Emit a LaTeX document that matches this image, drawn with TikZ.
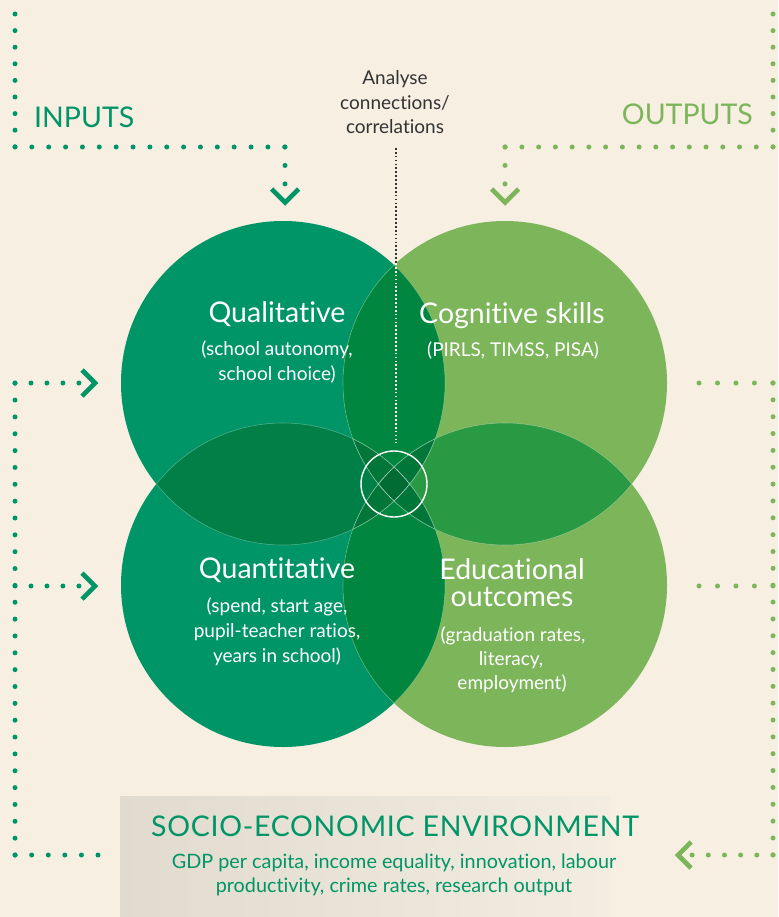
\documentclass[tikz,border=0pt]{standalone}
\usepackage{fontspec}
\setmainfont{Lato}[Ligatures=NoCommon]
\newfontfamily\spacedfont{Lato}[Ligatures=NoCommon, LetterSpace=2.5]
\definecolor{bg}{HTML}{F6EFE2}
\definecolor{gA}{HTML}{009567}
\definecolor{gB}{HTML}{7CB55A}
\definecolor{lensLL}{HTML}{008046}
\definecolor{lensTop}{HTML}{00863F}
\definecolor{lensRR}{HTML}{2A9944}
\definecolor{tri}{HTML}{007639}
\definecolor{quad}{HTML}{006C33}
\definecolor{txt}{HTML}{333333}
\definecolor{boxL}{HTML}{E1DACE}
\definecolor{boxR}{HTML}{F3EDE1}
\begin{document}
\begin{tikzpicture}[x=1pt,y=-1pt,
  dotsA/.style={draw=gA, line width=5pt, line cap=round, dash pattern=on 0pt off #1},
  dotsB/.style={draw=gB, line width=5pt, line cap=round, dash pattern=on 0pt off #1},
  chev/.style={line width=4.6pt, line join=miter, miter limit=10},
  head/.style={text=white, font=\fontsize{28.5}{30}\selectfont, anchor=base, inner sep=0pt},
  sub/.style={text=white, font=\fontsize{19}{22}\selectfont, anchor=base, inner sep=0pt},
  note/.style={text=txt, font=\fontsize{19}{22}\selectfont, anchor=base, inner sep=0pt},
  side/.style={font=\fontsize{28.5}{30}\selectfont, inner sep=0pt},
  envhead/.style={text=gA, font=\spacedfont\fontsize{28.5}{30}\selectfont, anchor=base, inner sep=0pt},
  envsub/.style={text=gA, font=\fontsize{19.8}{22}\selectfont, anchor=base, inner sep=0pt},
  edge/.style={draw=white, draw opacity=0.3, line width=0.6pt}
]
\useasboundingbox (0,0) rectangle (778,917);
\fill[bg] (0,0) rectangle (778,917);

% circle centres
\coordinate (TL) at (283,383);
\coordinate (TR) at (505,383);
\coordinate (BL) at (283,585);
\coordinate (BR) at (505,585);

% base circles
\fill[gA] (TL) circle[radius=162pt];
\fill[gA] (BL) circle[radius=162pt];
\fill[gB] (TR) circle[radius=162pt];
\fill[gB] (BR) circle[radius=162pt];

% pairwise overlaps
\begin{scope}
  \clip (TL) circle[radius=162pt];
  \fill[lensLL] (BL) circle[radius=162pt];
  \fill[lensTop] (TR) circle[radius=162pt];
\end{scope}
\begin{scope}
  \clip (BR) circle[radius=162pt];
  \fill[lensRR] (TR) circle[radius=162pt];
  \fill[lensTop] (BL) circle[radius=162pt];
\end{scope}
% triple overlaps
\begin{scope}
  \clip (TL) circle[radius=162pt];
  \fill[tri] (BR) circle[radius=162pt];
\end{scope}
\begin{scope}
  \clip (TR) circle[radius=162pt];
  \fill[tri] (BL) circle[radius=162pt];
\end{scope}
% all four
\begin{scope}
  \clip (TL) circle[radius=162pt];
  \clip (BR) circle[radius=162pt];
  \clip (TR) circle[radius=162pt];
  \fill[quad] (BL) circle[radius=162pt];
\end{scope}
% faint inner outlines
\foreach \a in {TL,TR,BL,BR}{
  \foreach \b in {TL,TR,BL,BR}{
    \ifx\a\b\else
      \begin{scope}
        \clip (\b) circle[radius=162pt];
        \draw[edge] (\a) circle[radius=162pt];
      \end{scope}
    \fi
  }
}

% hub circle
\node[draw=white, line width=1.4pt, circle, minimum size=66pt, inner sep=0pt] (hub) at (394,484) {};

% analyse note
\node[note] (ana1) at (395,85) {Analyse};
\node[note] (ana2) at (395,109.5) {connections/};
\node[note] (ana3) at (395,134) {correlations};
\coordinate (la) at (396,148);
\coordinate (lb) at (396,263);
\coordinate (lc) at (396,443);
\draw[draw=txt, line width=1.7pt, dash pattern=on 1.7pt off 2.2pt] (la) -- (lb);
\draw[draw=white, line width=1.7pt, dash pattern=on 1.7pt off 2.2pt] (lb) -- (lc);

% circle texts
\node[head] (qual) at (277,322) {Qualitative};
\node[sub] (qual1) at (277,355) {(school autonomy,};
\node[sub] (qual2) at (277,380) {school choice)};

\node[head] (cog) at (512,323) {Cognitive skills};
\node[sub] (cog1) at (513,356) {(PIRLS, TIMSS, PISA)};

\node[head] (quant) at (277,578) {Quantitative};
\node[sub] (quant1) at (277,612) {(spend, start age,};
\node[sub] (quant2) at (277,637) {pupil-teacher ratios,};
\node[sub] (quant3) at (277,662) {years in school)};

\node[head] (edu) at (512,579) {Educational};
\node[head] (edu0) at (512,606) {outcomes};
\node[sub] (edu1) at (513,641) {(graduation rates,};
\node[sub] (edu2) at (511,665) {literacy,};
\node[sub] (edu3) at (512,689) {employment)};

% side labels
\node[side, text=gA, anchor=base west] (inputs) at (34,128) {INPUTS};
\node[side, text=gB, anchor=base east] (outputs) at (753,125) {OUTPUTS};

% environment box
\shade[left color=boxL, right color=boxR] (120,796) rectangle (610,917);
\node[envhead] (env) at (395,836) {SOCIO-ECONOMIC ENVIRONMENT};
\node[envsub] (env1) at (394,868) {GDP per capita, income equality, innovation, labour};
\node[envsub] (env2) at (394,892) {productivity, crime rates, research output};

% inputs dotted path (top)
\coordinate (A1) at (15,14);
\coordinate (A2) at (15,147);
\coordinate (A3) at (285,147);
\coordinate (A4) at (285,184);
\draw[dotsA=16.6] (A1) -- (A2);
\draw[dotsA=16.86] (A2) -- (A3);
\draw[dotsA=18.45] (A3) -- (A4);
\draw[chev, gA] (271.5,189) -- (285,202.5) -- (298.5,189);

% outputs dotted path (top)
\coordinate (B1) at (773,14);
\coordinate (B2) at (773,147);
\coordinate (B3) at (505,147);
\coordinate (B4) at (505,184);
\draw[dotsB=16.6] (B1) -- (B2);
\draw[dotsB=16.74] (B2) -- (B3);
\draw[dotsB=18.45] (B3) -- (B4);
\draw[chev, gB] (491.5,189) -- (505,202.5) -- (518.5,189);

% environment -> inputs (left)
\coordinate (C1) at (98,855);
\coordinate (C2) at (15,855);
\coordinate (C3) at (15,383);
\coordinate (C4) at (79,383);
\coordinate (C5) at (15,586);
\coordinate (C6) at (79,586);
\draw[dotsA=16.58] (C1) -- (C2);
\draw[dotsA=16.85] (C2) -- (C3);
\draw[dotsA=15.98] (C3) -- (C4);
\draw[dotsA=15.98] (C5) -- (C6);
\draw[chev, gA] (82,370) -- (95,383) -- (82,396);
\draw[chev, gA] (82,573) -- (95,586) -- (82,599);

% outputs -> environment (right)
\coordinate (D1) at (699,383);
\coordinate (D2) at (773,383);
\coordinate (D3) at (773,855);
\coordinate (D4) at (692,855);
\coordinate (D5) at (699,586);
\coordinate (D6) at (773,586);
\draw[dotsB=18.48] (D1) -- (D2);
\draw[dotsB=16.85] (D2) -- (D3);
\draw[dotsB=16.18] (D3) -- (D4);
\draw[dotsB=18.48] (D5) -- (D6);
\draw[chev, gB] (691,842) -- (678,855) -- (691,868);
\end{tikzpicture}
\end{document}
